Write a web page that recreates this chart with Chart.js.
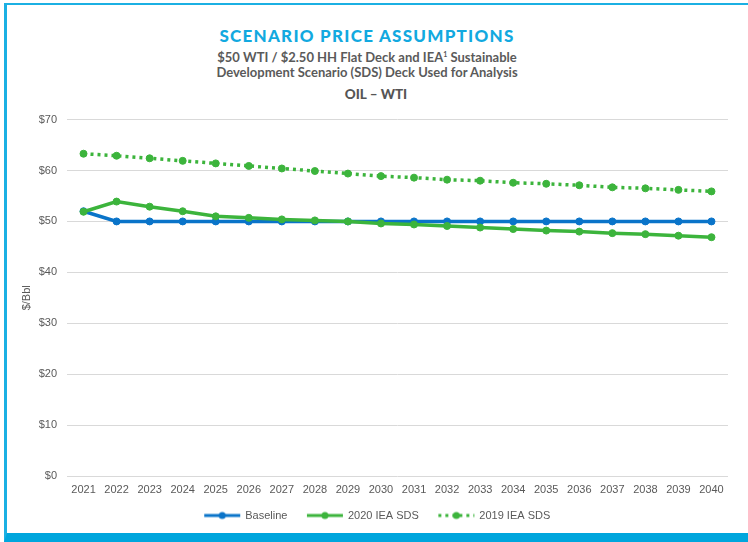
<!DOCTYPE html>
<html>
<head>
<meta charset="utf-8">
<script src="https://cdn.jsdelivr.net/npm/chart.js@4.4.1/dist/chart.umd.min.js"></script>
<style>
  html, body { margin:0; padding:0; background:#fff; }
  #wrap { position:relative; width:748px; height:542px; overflow:hidden; font-family:"Lato","Open Sans",sans-serif; }
  #frame { position:absolute; left:4px; top:3px; right:-10px; bottom:0; border-top:2px solid #1bb0e3; border-left:3px solid #1bb0e3; border-bottom:9px solid #00a6dd; }
  .t { position:absolute; left:0; width:734px; text-align:center; white-space:nowrap; }
  #title { top:25px; font-size:17px; font-weight:900; letter-spacing:1.25px; color:#12a9e0; }
  #sub1 { top:49px; font-size:13px; font-weight:700; color:#5a5a5a; }
  #sub2 { top:64px; font-size:13px; font-weight:700; color:#5a5a5a; }
  #oil  { top:86px; width:752px; font-size:13.5px; font-weight:900; color:#555; }
  #c { position:absolute; left:0; top:103px; }
</style>
</head>
<body>
<div id="wrap">
  <div id="frame"></div>
  <div class="t" id="title">SCENARIO PRICE ASSUMPTIONS</div>
  <div class="t" id="sub1">$50 WTI / $2.50 HH Flat Deck and IEA<sup style="font-size:7px">1</sup> Sustainable</div>
  <div class="t" id="sub2">Development Scenario (SDS) Deck Used for Analysis</div>
  <div class="t" id="oil">OIL – WTI</div>
  <canvas id="c" width="748" height="432"></canvas>
</div>
<script>
// -------- Datos --------
const years = ["2021","2022","2023","2024","2025","2026","2027","2028","2029","2030",
               "2031","2032","2033","2034","2035","2036","2037","2038","2039","2040"];
const baseline = [52,50,50,50,50,50,50,50,50,50,50,50,50,50,50,50,50,50,50,50];
const sds2020  = [51.9,53.9,52.9,52,51,50.7,50.4,50.2,50,49.6,49.4,49.1,48.8,48.5,48.2,48,47.7,47.5,47.2,46.9];
const sds2019  = [63.3,62.9,62.4,61.9,61.4,60.9,60.4,59.9,59.4,58.9,58.6,58.2,58,57.6,57.4,57.1,56.7,56.5,56.2,55.9];
const yTicks   = [0,10,20,30,40,50,60,70];

const BLUE = "#0a74c9", GREEN = "#3cb43c";
const FONT = { family:"Liberation Sans, Arial", size:11 };

// icono de leyenda: línea con punto al centro
function legendIcon(color, dotted) {
  const c = document.createElement("canvas");
  c.width = 38; c.height = 10;
  const g = c.getContext("2d");
  g.strokeStyle = color; g.fillStyle = color;
  g.lineWidth = 3;
  if (dotted) g.setLineDash([3,4]);
  g.beginPath(); g.moveTo(1,5); g.lineTo(37,5); g.stroke();
  g.beginPath(); g.arc(19,5,3.5,0,Math.PI*2); g.fill();
  return c;
}

const datasets = [
  { label:"Baseline", data:baseline, borderColor:BLUE, backgroundColor:BLUE, order:2, icon:legendIcon(BLUE,false) },
  { label:"2020 IEA SDS", data:sds2020, borderColor:GREEN, backgroundColor:GREEN, order:1, icon:legendIcon(GREEN,false) },
  { label:"2019 IEA SDS", data:sds2019, borderColor:GREEN, backgroundColor:GREEN, borderDash:[3,4], order:3, icon:legendIcon(GREEN,true) }
].map(d => Object.assign({ borderWidth:3.5, pointRadius:3.5, pointBorderWidth:1, pointBorderColor:d.borderColor, tension:0 }, d));

// leyenda: alto fijo (el área del gráfico baja), subida y corrida a la derecha
const legendTweak = {
  id:"legendTweak",
  afterInit(chart) {
    const lg = chart.legend;
    if (!lg) return;
    const fit = lg.fit.bind(lg);
    lg.fit = function () { fit(); this.height = 38; };
  },
  afterLayout(chart) {
    const lg = chart.legend;
    if (!lg) return;
    lg.left += 27;
    lg.width = lg.right - lg.left;
    lg.top -= 7;
  }
};

new Chart(document.getElementById("c").getContext("2d"), {
  type: "line",
  data: { labels: years, datasets },
  plugins: [legendTweak],
  options: {
    responsive:false, animation:false,
    layout: { padding: { top:15, right:20, left:0, bottom:0 } },
    plugins: {
      tooltip: { enabled:false },
      legend: {
        position:"bottom",
        labels: {
          usePointStyle:true, pointStyleWidth:35, padding:20,
          color:"#595959", font:FONT,
          generateLabels: chart => chart.data.datasets.map((d,i) => ({
            text:d.label, pointStyle:d.icon, datasetIndex:i, fontColor:"#595959",
            lineWidth:0, strokeStyle:"transparent", fillStyle:"transparent"
          }))
        }
      }
    },
    scales: {
      x: {
        offset:true,
        afterFit: s => { s.height = 21; },
        grid:{ display:false, drawTicks:false }, border:{ display:false },
        ticks:{ color:"#595959", font:FONT, padding:7, maxRotation:0, autoSkip:false }
      },
      y: {
        min:0, max:70,
        afterBuildTicks: s => { s.ticks = yTicks.map(v => ({ value:v })); },
        afterFit: s => { s.width = 67; },
        grid:{ color:"#d9d9d9", drawTicks:false }, border:{ display:false },
        ticks:{ color:"#595959", font:FONT, padding:10, callback: v => "$" + v },
        title:{ display:true, text:"$/Bbl", color:"#595959", font:FONT, padding:{ top:20 } }
      }
    }
  }
});
</script>
</body>
</html>
